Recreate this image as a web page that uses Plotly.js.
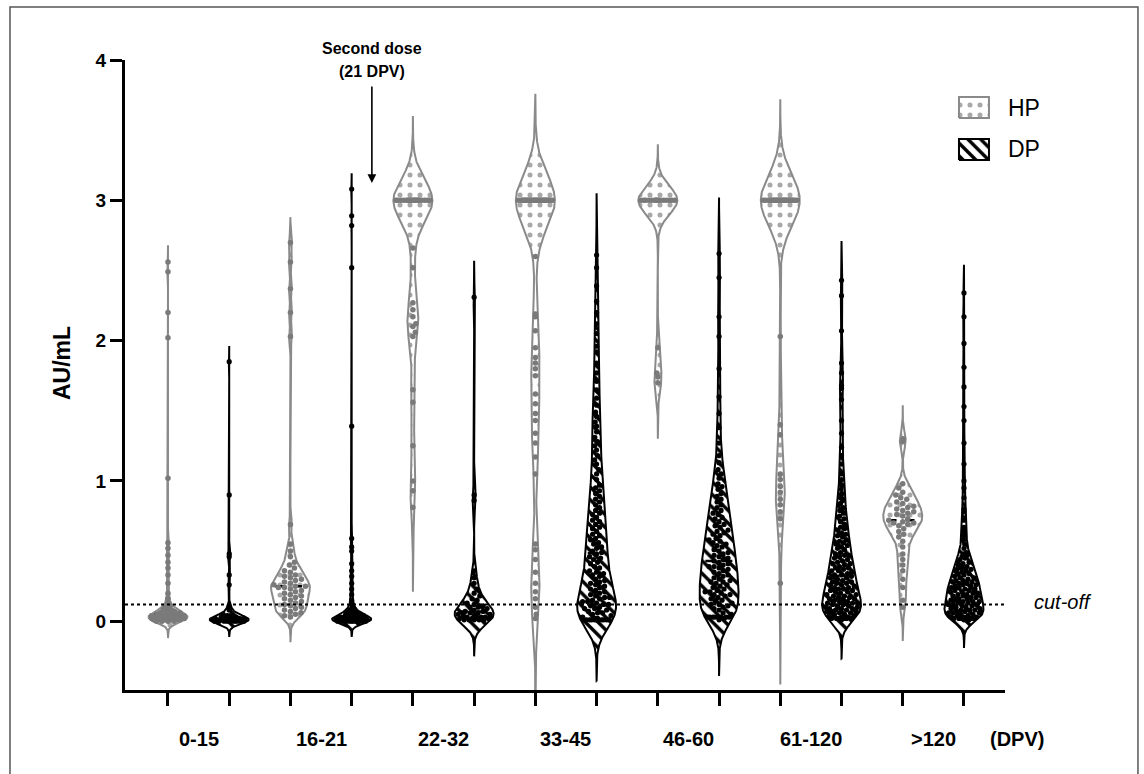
<!DOCTYPE html>
<html><head><meta charset="utf-8">
<script src="https://cdn.plot.ly/plotly-3.0.1.min.js"></script>
<style>html,body{margin:0;padding:0;background:#fff}#chart{width:1144px;height:774px}</style>
</head><body><div id="chart"></div>
<script>
// ---------------- data ----------------
const categories = ['0-15','16-21','22-32','33-45','46-60','61-120','>120'];
const groupNames = ['HP','DP'];
const cutoffValue = 0.12;
const yTicks = [0,1,2,3,4];

const hp_0_15 = [2.56,2.49,2.20,2.02,1.02,0.56,0.52,0.47,0.42,0.38,0.33,0.27,0.20,0.16,0.13,0.11,0.10,0.09,0.08,0.08,0.07,0.07,0.06,0.06,0.06,0.05,0.05,0.05,0.05,0.04,0.04,0.04,0.04,0.04,0.03,0.03,0.03,0.03,0.03,0.03,0.02,0.02,0.02,0.02,0.02,0.02,0.02,0.01,0.01,0.01,0.01,0.01,0.01,0.00,0.00,0.00,0.00];
const dp_0_15 = [1.85,0.90,0.48,0.46,0.33,0.26,0.10,0.09,0.08,0.05,0.04,0.04,0.03,0.03,0.03,0.02,0.02,0.02,0.02,0.02,0.01,0.01,0.01,0.01,0.01,0.01,0.01,0.01,0.01,0.01,0.01,0.01,0.00,0.00,0.00,0.00,0.00,0.00,0.00,0.00,0.00,0.00];
const hp_16_21 = [2.70,2.56,2.37,2.20,2.03,0.69,0.55,0.50,0.46,0.42,0.40,0.38,0.36,0.35,0.33,0.32,0.31,0.30,0.29,0.28,0.27,0.26,0.25,0.25,0.24,0.24,0.23,0.22,0.21,0.20,0.19,0.18,0.17,0.16,0.15,0.14,0.13,0.12,0.11,0.10,0.09,0.08,0.07,0.06,0.05,0.04,0.03];
const dp_16_21 = [3.08,2.89,2.82,2.52,1.39,0.59,0.53,0.50,0.41,0.36,0.32,0.27,0.23,0.19,0.15,0.12,0.10,0.09,0.08,0.07,0.06,0.06,0.05,0.05,0.04,0.04,0.04,0.03,0.03,0.03,0.03,0.02,0.02,0.02,0.02,0.02,0.02,0.01,0.01,0.01,0.01,0.01,0.01,0.01,0.01,0.01,0.01,0.01,0.01,0.00,0.00,0.00,0.00,0.00,0.00,0.00,0.00,0.00,0.00];
const hp_22_32 = [3.00,3.00,3.00,3.00,3.00,3.00,3.00,3.00,3.00,3.00,3.00,3.00,3.00,3.00,3.00,3.00,3.00,3.00,3.00,3.00,3.00,3.00,2.66,2.52,2.27,2.22,2.17,2.12,2.10,2.06,2.03,1.65,1.56,1.25,1.00,0.93,0.81];
const dp_22_32 = [2.31,0.90,0.86,0.36,0.31,0.27,0.23,0.20,0.18,0.16,0.15,0.13,0.12,0.11,0.10,0.10,0.09,0.08,0.07,0.07,0.06,0.06,0.05,0.05,0.04,0.04,0.03,0.03,0.03,0.02,0.02,0.02,0.02,0.01,0.01,0.01,0.01,0.01];
const hp_33_45 = [3.00,3.00,3.00,3.00,3.00,3.00,3.00,3.00,3.00,3.00,3.00,3.00,3.00,3.00,3.00,3.00,3.00,3.00,3.00,3.00,3.00,3.00,3.00,3.00,3.00,3.00,3.00,3.00,3.00,3.00,3.00,3.00,2.60,2.19,2.17,2.07,1.95,1.88,1.84,1.80,1.75,1.62,1.55,1.48,1.43,1.34,1.27,1.17,1.05,0.55,0.51,0.44,0.35,0.27,0.21,0.16,0.10,0.05,0.02];
const dp_33_45 = [0.01,0.01,0.01,0.01,0.01,0.01,0.01,0.01,0.01,0.01,0.01,0.02,0.02,0.03,0.04,0.05,0.06,0.06,0.07,0.08,0.09,0.09,
  0.10,0.11,0.12,0.12,0.13,0.14,0.14,0.15,0.16,0.17,0.17,0.18,0.19,
  0.20,0.21,0.22,0.23,0.24,0.25,0.26,0.27,0.28,0.29,
  0.30,0.32,0.33,0.34,0.35,0.36,0.38,0.39,
  0.41,0.42,0.44,0.45,0.46,0.48,0.49,
  0.50,0.52,0.53,0.55,0.56,0.58,0.59,
  0.61,0.62,0.64,0.66,0.67,0.69,
  0.71,0.72,0.74,0.76,0.77,0.79,
  0.81,0.83,0.85,0.87,0.89,
  0.91,0.93,0.95,0.97,
  1.01,1.05,1.08,1.12,1.15,1.18,1.22,1.25,1.28,1.31,1.35,1.39,1.42,1.46,1.49,
  1.54,1.59,1.65,1.71,1.77,1.84,1.92,1.96,
  2.05,2.12,2.20,2.28,2.39,2.52,2.61];
const hp_46_60 = [3.00,3.00,3.00,3.00,3.00,3.00,3.00,3.00,3.00,3.00,3.00,3.00,3.00,3.00,3.00,3.00,1.95,1.77,1.74,1.70];
const dp_46_60 = [0.03,0.03,0.03,0.03,0.03,0.03,0.03,0.03,0.01,0.02,0.05,0.06,0.08,0.09,
  0.10,0.11,0.12,0.12,0.13,0.14,0.15,0.16,0.17,0.18,0.19,0.19,
  0.20,0.21,0.21,0.22,0.23,0.24,0.25,0.26,0.27,0.28,0.28,0.29,
  0.30,0.31,0.32,0.33,0.34,0.35,0.36,0.37,0.38,0.39,0.39,
  0.40,0.41,0.42,0.43,0.44,0.45,0.46,0.47,0.48,0.49,
  0.50,0.51,0.53,0.54,0.55,0.56,0.57,0.58,0.59,
  0.61,0.62,0.63,0.64,0.65,0.67,0.68,0.69,
  0.71,0.73,0.74,0.76,0.77,0.79,
  0.81,0.83,0.85,0.87,0.89,
  0.91,0.94,0.96,0.98,
  1.02,1.05,1.08,1.13,1.18,1.27,1.38,1.48,
  1.60,1.80,2.03,2.17,2.45,2.62];
const hp_61_120 = [3.00,3.00,3.00,3.00,3.00,3.00,3.00,3.00,3.00,3.00,3.00,3.00,3.00,3.00,3.00,3.00,3.00,3.00,3.00,3.00,3.00,3.00,3.00,3.00,3.00,3.00,3.00,3.00,3.00,3.00,2.03,1.40,1.33,1.05,1.01,0.96,0.92,0.87,0.83,0.78,0.73,0.27];
const dp_61_120 = [0.01,0.02,0.02,0.02,0.02,0.02,0.02,0.03,0.03,0.04,0.04,0.05,
  0.05,0.06,0.06,0.07,0.07,0.07,0.08,0.08,0.09,0.09,0.09,0.10,
  0.10,0.11,0.11,0.12,0.12,0.13,0.13,0.13,0.14,0.14,0.15,
  0.15,0.16,0.16,0.17,0.17,0.18,0.18,0.19,0.19,0.20,
  0.21,0.21,0.22,0.22,0.23,0.23,0.24,0.24,0.25,
  0.26,0.26,0.27,0.27,0.28,0.28,0.29,0.30,
  0.31,0.31,0.32,0.33,0.33,0.34,0.35,
  0.36,0.36,0.37,0.38,0.38,0.39,0.40,
  0.41,0.41,0.42,0.43,0.44,0.45,
  0.46,0.47,0.47,0.48,0.49,
  0.51,0.52,0.53,0.54,0.55,0.56,0.57,0.58,0.60,
  0.61,0.62,0.63,0.65,0.66,0.67,0.69,
  0.71,0.73,0.75,0.77,0.79,
  0.81,0.84,0.86,0.88,
  0.91,0.94,0.97,
  1.01,1.05,1.12,1.18,1.24,1.34,1.43,
  1.58,1.66,1.68,1.77,1.84,2.07,2.32,2.43];
const hp_gt120 = [1.30,1.28,0.98,0.95,0.92,0.90,0.88,0.87,0.85,0.84,0.82,0.81,0.80,0.79,0.78,0.77,0.76,0.75,0.73,0.72,0.71,0.70,0.70,0.69,0.68,0.66,0.64,0.62,0.60,0.57,0.53,0.48,0.44,0.40,0.36,0.30,0.24,0.15,0.10];
const dp_gt120 = [0.01,0.01,0.02,0.02,0.02,0.02,0.02,0.02,0.03,0.03,0.03,0.04,0.04,0.05,
  0.05,0.06,0.06,0.06,0.07,0.07,0.08,0.08,0.08,0.09,0.09,0.10,0.10,
  0.11,0.11,0.12,0.12,0.12,0.13,0.13,0.14,0.14,0.14,0.15,0.15,
  0.16,0.16,0.17,0.17,0.18,0.18,0.19,0.19,0.20,0.20,
  0.21,0.21,0.22,0.22,0.23,0.23,0.24,0.24,0.25,0.25,
  0.26,0.26,0.27,0.27,0.28,0.28,0.29,0.29,0.30,
  0.31,0.31,0.32,0.33,0.34,0.34,0.35,
  0.36,0.37,0.37,0.38,0.39,0.40,
  0.41,0.42,0.44,0.45,0.46,0.47,0.48,0.49,
  0.52,0.55,0.58,0.61,0.64,0.67,
  0.72,0.78,0.80,0.88,0.95,1.00,1.12,1.27,1.43,1.53,1.67,1.81,1.98,2.17,2.34];

const hpSeries = [hp_0_15, hp_16_21, hp_22_32, hp_33_45, hp_46_60, hp_61_120, hp_gt120];
const dpSeries = [dp_0_15, dp_16_21, dp_22_32, dp_33_45, dp_46_60, dp_61_120, dp_gt120];

// ---------------- style / smoothing settings ----------------
const bandwidthHP = [0.03, 0.045, 0.15, 0.19, 0.10, 0.18, 0.06];
const bandwidthDP = [0.028, 0.028, 0.065, 0.11, 0.10, 0.07, 0.05];
const FONT = 'Liberation Sans, Arial, Helvetica, sans-serif';
const HP_LINE = '#8a8a8a', HP_PT = '#7a7a7a', DP_LINE = '#000000';
const HP_PATTERN = {shape:'.', fgcolor:'#a8a8a8', bgcolor:'white', size:10, solidity:0.2};
const DP_PATTERN = {shape:'\\', fgcolor:'#000', bgcolor:'white', size:9, solidity:0.38};
const XRANGE = [-0.702, 13.67], YRANGE = [-0.49, 4];
const PLOT_W = 880, PLOT_H = 630;
const KX = PLOT_W / (XRANGE[1]-XRANGE[0]);   // px per x unit
const KY = PLOT_H / (YRANGE[1]-YRANGE[0]);   // px per y unit
const HALF_W = 19.5 / KX;                    // max violin half-width
// legend box geometry (fractions of the plot area)
const LEG_X = [0.9477, 0.9818];
const LEG_Y = {HP:[0.9079, 0.9413], DP:[0.8413, 0.8746]};

function kde(data, bw, y){ let s=0; for(const v of data){ const z=(y-v)/bw; s+=Math.exp(-0.5*z*z);} return s; }

function violin(data, bw, pos){
  const lo = Math.min(...data) - 4*bw, hi = Math.max(...data) + 4*bw;
  const n = Math.max(300, Math.ceil((hi-lo)/0.004));
  const ys=[], ks=[];
  for(let i=0;i<=n;i++){ const y=lo+(hi-lo)*i/n; ys.push(y); ks.push(kde(data,bw,y)); }
  const kmax = Math.max(...ks);
  const px=[], py=[];
  for(let i=0;i<=n;i++){ px.push(pos + HALF_W*ks[i]/kmax); py.push(ys[i]); }
  for(let i=n;i>=0;i--){ px.push(pos - HALF_W*ks[i]/kmax); py.push(ys[i]); }
  px.push(px[0]); py.push(py[0]);
  return {px, py, w: y => HALF_W*kde(data,bw,y)/kmax};
}

function swarm(data, pos, wfun, frac, d){
  const sorted = data.slice().sort((a,b)=>a-b);
  const placed=[], xs=[], ys=[];
  const r=2.5;
  for(const v of sorted){
    const yp = v*KY;
    const lim = Math.max(0, wfun(v)*KX*frac - r);
    let best=0, bestScore=-1, found=false;
    const smax = Math.ceil(lim);
    for(let s=0; s<=smax && !found; s++){
      const signs = s===0 ? [1] : (s%2 ? [1,-1] : [-1,1]);
      for(const sg of signs){
        const c = Math.min(s, lim)*sg;
        let md = Infinity;
        for(const p of placed){ const dy=p[1]-yp; if(Math.abs(dy)>=d) continue; const dist=Math.hypot(p[0]-c, dy); if(dist<md) md=dist; }
        if(md>=d){ best=c; found=true; break; }
        if(md>bestScore){ bestScore=md; best=c; }
      }
    }
    placed.push([best, yp]); xs.push(pos + best/KX); ys.push(v);
  }
  return {xs, ys};
}

function median(a){ const s=a.slice().sort((x,y)=>x-y); const m=Math.floor(s.length/2); return s.length%2 ? s[m] : (s[m-1]+s[m])/2; }

const shapesTr=[], medTr=[], ptsTr=[];
categories.forEach((cat, i) => {
  [[hpSeries[i], bandwidthHP[i], 2*i, 'HP'], [dpSeries[i], bandwidthDP[i], 2*i+1, 'DP']].forEach(([data,bw,pos,g]) => {
    const isHP = g==='HP';
    const v = violin(data, bw, pos);
    shapesTr.push({
      type:'scatter', mode:'lines', x:v.px, y:v.py, fill:'toself', fillcolor:'white',
      fillpattern: isHP ? HP_PATTERN : DP_PATTERN,
      line:{color: isHP?HP_LINE:DP_LINE, width:2}, name:g, showlegend:false, hoverinfo:'skip'
    });
    const m = median(data), mw = v.w(m)*0.8;
    medTr.push({type:'scatter', mode:'lines', x:[pos-mw, pos+mw], y:[m,m],
      line:{color:'#000', width:2.5, dash:'dash'}, showlegend:false, hoverinfo:'skip'});
    const s = isHP ? swarm(data, pos, v.w, 1.0, 5.2) : swarm(data, pos, v.w, 0.95, 4.8);
    ptsTr.push({type:'scatter', mode:'markers', x:s.xs, y:s.ys,
      marker:{size: isHP?5.5:5.2, color: isHP?HP_PT:'#000', line:{width:0}}, showlegend:false, name:g+' '+cat});
  });
});

// legend boxes drawn on an overlay axis spanning the plot area
const legendTr = groupNames.map(g => ({
  type:'scatter', mode:'lines', xaxis:'x2', yaxis:'y2',
  x:[LEG_X[0], LEG_X[1], LEG_X[1], LEG_X[0], LEG_X[0]],
  y:[LEG_Y[g][0], LEG_Y[g][0], LEG_Y[g][1], LEG_Y[g][1], LEG_Y[g][0]],
  fill:'toself', fillcolor:'white', fillpattern: g==='HP' ? HP_PATTERN : DP_PATTERN,
  line:{color: g==='HP'?HP_LINE:DP_LINE, width:2}, showlegend:false, hoverinfo:'skip'
}));

const annotations = categories.map((c,i)=>({
  x: 2*i+0.5, xref:'x', y: -0.078, yref:'paper', text:'<b>'+c.replace('>','&gt;')+'</b>',
  showarrow:false, xanchor:'center', yanchor:'middle', font:{family:FONT, size:20, color:'#000'}
}));
annotations.push({x:1.0136, xref:'paper', y:-0.078, yref:'paper', text:'<b>(DPV)</b>', showarrow:false,
  xanchor:'center', yanchor:'middle', font:{family:FONT, size:20, color:'#000'}});
annotations.push({x:1.031, xref:'paper', y:0.135, yref:'y', text:'<i>cut-off</i>', showarrow:false,
  xanchor:'left', yanchor:'middle', font:{family:FONT, size:20, color:'#000'}});
annotations.push({x:-0.0716, xref:'paper', y:0.519, yref:'paper', text:'<b>AU/mL</b>', textangle:-90, showarrow:false,
  xanchor:'center', yanchor:'middle', font:{family:FONT, size:23, color:'#000'}});
annotations.push({x:3.33, xref:'x', y:1.019, yref:'paper', text:'<b>Second dose</b>', showarrow:false,
  xanchor:'center', yanchor:'middle', font:{family:FONT, size:16, color:'#000'}});
annotations.push({x:3.33, xref:'x', y:0.9817, yref:'paper', text:'<b>(21 DPV)</b>', showarrow:false,
  xanchor:'center', yanchor:'middle', font:{family:FONT, size:16, color:'#000'}});
annotations.push({x:3.33, xref:'x', y:3.123, yref:'y', ax:0, ay:-98, text:'', showarrow:true,
  arrowhead:2, arrowsize:1.1, arrowwidth:1.6, arrowcolor:'#000'});
groupNames.forEach(g => annotations.push({x:1.0011, xref:'paper', y:(LEG_Y[g][0]+LEG_Y[g][1])/2, yref:'paper',
  text:g, showarrow:false, xanchor:'left', yanchor:'middle', font:{family:FONT, size:23, color:'#000'}}));

const layout = {
  width:1144, height:774, margin:{l:125, r:139, t:60, b:84},
  paper_bgcolor:'#fff', plot_bgcolor:'#fff', font:{family:FONT, color:'#000'},
  showlegend:false,
  xaxis:{range:XRANGE, tickvals:[0,1,2,3,4,5,6,7,8,9,10,11,12,13], ticks:'outside', ticklen:13, tickwidth:3,
    tickcolor:'#000', showticklabels:false, showline:true, linewidth:3, linecolor:'#000',
    showgrid:false, zeroline:false, fixedrange:true},
  yaxis:{range:YRANGE, tickvals:yTicks, ticks:'outside', ticklen:12, tickwidth:3, tickcolor:'#000',
    showline:true, linewidth:3, linecolor:'#000', showgrid:false, zeroline:false,
    tickfont:{family:FONT, size:19, color:'#000', weight:'bold'}, fixedrange:true},
  xaxis2:{overlaying:'x', range:[0,1], visible:false, fixedrange:true, anchor:'y2'},
  yaxis2:{overlaying:'y', range:[0,1], visible:false, fixedrange:true, anchor:'x2'},
  shapes:[
    {type:'line', xref:'paper', x0:0, x1:1, yref:'y', y0:cutoffValue, y1:cutoffValue,
     line:{color:'#000', width:2, dash:'dot'}, layer:'above'},
    {type:'rect', xref:'paper', yref:'paper', x0:-0.1307, x1:1.1511, y0:-0.142, y1:1.0841,
     line:{color:'#555', width:1.5}, fillcolor:'rgba(0,0,0,0)', layer:'below'}
  ],
  annotations
};

Plotly.newPlot('chart', [...shapesTr, ...medTr, ...ptsTr, ...legendTr], layout, {displayModeBar:false, staticPlot:true});
</script></body></html>
